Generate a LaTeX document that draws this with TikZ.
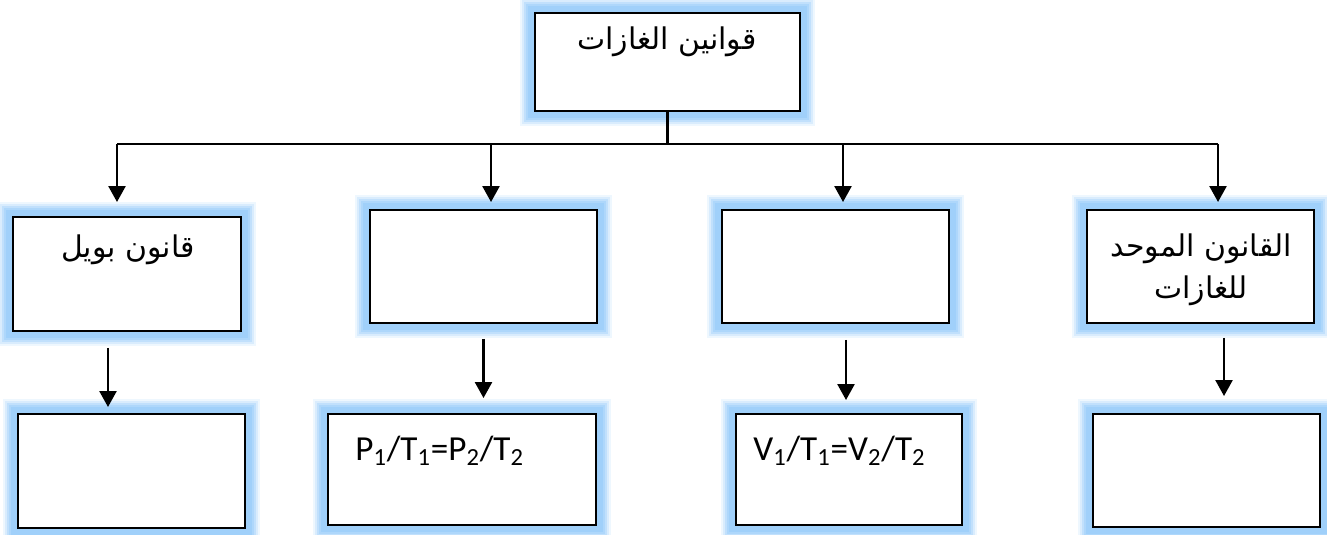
\documentclass[tikz,border=0pt]{standalone}
\usepackage{fontspec}
\setmainfont{Carlito}
\newfontfamily\arabicfont[Script=Arabic]{DejaVu Sans}
\TeXXeTstate=1
\usepackage{tikz}
\usetikzlibrary{positioning, arrows.meta}
\definecolor{glowblue}{RGB}{160,208,250}
\tikzset{
    box/.style={draw, line width=1.1pt, fill=white,
        preaction={draw=glowblue!18, line width=0.6cm, rounded corners=0.3cm},
        preaction={draw=glowblue!40, line width=0.52cm, rounded corners=0.26cm},
        preaction={draw=glowblue!65, line width=0.44cm, rounded corners=0.22cm},
        preaction={draw=glowblue!85, line width=0.36cm, rounded corners=0.16cm},
        preaction={draw=glowblue, line width=0.28cm, rounded corners=0.1cm}},
    arr/.style={line width=1.4pt, -{Triangle[width=0.34cm, length=0.32cm]}},
    ar/.style={font=\arabicfont\fontsize{17}{24}\selectfont, align=center},
    eq/.style={font=\fontsize{20}{24}\selectfont, anchor=west, inner sep=0pt}
}
\begin{document}
\begin{tikzpicture}
    \useasboundingbox (0, 0) rectangle (26.54, 10.68);
    % boxes
    \node[box, minimum width=5.3cm, minimum height=1.96cm] (top) at (13.35, 9.44) {};
    \node[box, minimum width=4.56cm, minimum height=2.28cm] (boyle) at (2.54, 5.2) {};
    \node[box, minimum width=4.54cm, minimum height=2.26cm] (gay) at (9.67, 5.35) {};
    \node[box, minimum width=4.54cm, minimum height=2.26cm] (charles) at (16.71, 5.35) {};
    \node[box, minimum width=4.54cm, minimum height=2.26cm] (comb) at (24.01, 5.35) {};
    \node[box, minimum width=4.54cm, minimum height=2.28cm] (boyleq) at (2.63, 1.26) {};
    \node[box, minimum width=5.36cm, minimum height=2.22cm] (gayq) at (9.24, 1.29) {};
    \node[box, minimum width=4.52cm, minimum height=2.22cm] (charlesq) at (16.98, 1.29) {};
    \node[box, minimum width=4.54cm, minimum height=2.26cm] (combq) at (24.13, 1.27) {};
    % texts
    \node[ar] (ttop) at (13.34, 9.84) {\beginR قوانين الغازات\endR};
    \node[ar] (tboyle) at (2.56, 5.68) {\beginR قانون بويل\endR};
    \node[ar] (tcomb) at (24.02, 5.28) {\beginR القانون الموحد\endR\\ \beginR للغازات\endR};
    \node[eq] (tgay) at (7.1, 1.66) {P\textsubscript{1}/T\textsubscript{1}=P\textsubscript{2}/T\textsubscript{2}};
    \node[eq] (tcharles) at (15.06, 1.66) {V\textsubscript{1}/T\textsubscript{1}=V\textsubscript{2}/T\textsubscript{2}};
    % bus
    \coordinate (busA) at (2.34, 7.8);
    \coordinate (busB) at (9.82, 7.8);
    \coordinate (busC) at (16.86, 7.8);
    \coordinate (busD) at (24.36, 7.8);
    \draw[line width=1.4pt] (top.south) -- (top.south |- busA);
    \draw[line width=1.4pt] (busA) -- (busD);
    \draw[arr, shorten >=0.28cm] (busA) -- (busA |- boyle.north);
    \draw[arr, shorten >=0.14cm] (busB) -- (busB |- gay.north);
    \draw[arr, shorten >=0.14cm] (busC) -- (busC |- charles.north);
    \draw[arr, shorten >=0.14cm] (busD) -- (busD |- comb.north);
    % second row
    \draw[arr, shorten <=0.32cm, shorten >=0.12cm] ([xshift=-0.38cm]boyle.south) -- ([xshift=-0.38cm]boyle.south |- boyleq.north);
    \draw[arr, shorten <=0.3cm, shorten >=0.3cm] (gay.south) -- (gay.south |- gayq.north);
    \draw[arr, shorten <=0.32cm, shorten >=0.26cm] ([xshift=0.21cm]charles.south) -- ([xshift=0.21cm]charles.south |- charlesq.north);
    \draw[arr, shorten <=0.28cm, shorten >=0.34cm] ([xshift=0.47cm]comb.south) -- ([xshift=0.47cm]comb.south |- combq.north);
\end{tikzpicture}
\end{document}
